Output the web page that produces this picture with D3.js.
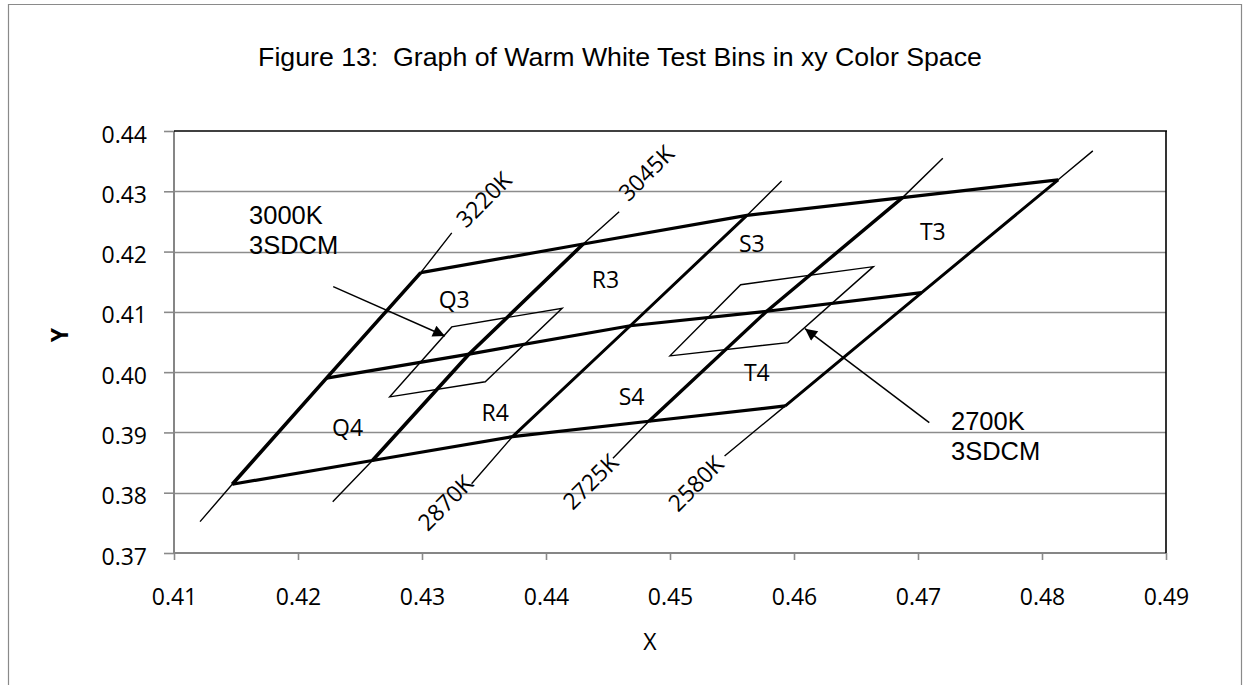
<!DOCTYPE html>
<html>
<head>
<meta charset="utf-8">
<script src="https://cdn.jsdelivr.net/npm/d3@7"></script>
<style>
  html, body { margin: 0; padding: 0; background: #fff; }
  svg { display: block; }
</style>
</head>
<body>
<svg id="chart" width="1243" height="685"></svg>
<script>
// ---------------- DATA ----------------
const titleText = "Figure 13:  Graph of Warm White Test Bins in xy Color Space";
const xTicks = [0.41, 0.42, 0.43, 0.44, 0.45, 0.46, 0.47, 0.48, 0.49];
const yTicks = [0.37, 0.38, 0.39, 0.40, 0.41, 0.42, 0.43, 0.44];

// CCT lines: name, thin lower end, thick points (bottom, middle, top), thin upper end
const cctNames = ["3220K", "3045K", "2870K", "2725K", "2580K"];
const cctLowEnd = [[0.4121, 0.3752], [0.4228, 0.3785], [0.4340, 0.3815], [0.4454, 0.3857], [0.4544, 0.3861]];
const cctBottom = [[0.4147, 0.3814], [0.4260, 0.38535], [0.4373, 0.3893], [0.4483, 0.39185], [0.4593, 0.3944]];
const cctMiddle = [[0.4223, 0.3990], [0.4338, 0.4030], [0.4468, 0.4077], [0.4578, 0.4101], [0.4703, 0.4132]];
const cctTop = [[0.4299, 0.4165], [0.4430, 0.42125], [0.4562, 0.4260], [0.46875, 0.42895], [0.4813, 0.4319]];
const cctHighEnd = [[0.4324, 0.4231], [0.4459, 0.4266], [0.4590, 0.4317], [0.4720, 0.4355], [0.4841, 0.4367]];
const cctLabelPos = [[0.4350, 0.4286], [0.4481, 0.4330], [0.4319, 0.3783], [0.4436, 0.3818], [0.4521, 0.3815]];

// 3-step MacAdam (3SDCM) quadrangles
const sdcm3000 = [[0.4274, 0.3959], [0.4351, 0.3984], [0.4413, 0.4106], [0.4324, 0.4075]];
const sdcm2700 = [[0.4500, 0.4027], [0.4595, 0.4049], [0.4664, 0.4175], [0.4557, 0.4145]];

// Bin labels
const binNames = ["Q3", "Q4", "R3", "R4", "S3", "S4", "T3", "T4"];
const binPos = [[0.4326, 0.4120], [0.4240, 0.3907], [0.4448, 0.4153], [0.4359, 0.3932],
                [0.4566, 0.4213], [0.4469, 0.3959], [0.4712, 0.4232], [0.4570, 0.3999]];

// Annotations (text anchor, arrow start, arrow tip)
const annoLines = [["3000K", "3SDCM"], ["2700K", "3SDCM"]];
const annoText = [[0.41605, 0.42457], [0.47266, 0.39041]];
const annoFrom = [[0.42284, 0.41418], [0.47091, 0.39162]];
const annoTo = [[0.43185, 0.40600], [0.46089, 0.40721]];

// ---------------- LAYOUT ----------------
const svg = d3.select("#chart");
const W = 1243, H = 685;
const plot = { left: 174, right: 1166, top: 131, bottom: 553 };
const x = d3.scaleLinear().domain([0.41, 0.49]).range([plot.left, plot.right]);
const y = d3.scaleLinear().domain([0.37, 0.44]).range([plot.bottom, plot.top]);
const calibri = "'Open Sans', 'Noto Sans', sans-serif";
const arial = "'Liberation Sans', Arial, sans-serif";

// Outer chart border
svg.append("path")
  .attr("d", `M8.5,${H + 5} L8.5,4.5 L1241.5,4.5 L1241.5,${H + 5}`)
  .attr("fill", "none").attr("stroke", "#8a8a8a").attr("stroke-width", 1.2);

// Title
svg.append("text").attr("x", 620).attr("y", 65.5)
  .attr("text-anchor", "middle")
  .style("white-space", "pre")
  .style("font-family", arial).style("font-size", "26.7px").attr("fill", "#000")
  .text(titleText);

// Gridlines
svg.append("g").selectAll("line").data(yTicks.filter(v => v > 0.371 && v < 0.439)).join("line")
  .attr("x1", plot.left).attr("x2", plot.right)
  .attr("y1", d => Math.round(y(d)) + 0.5).attr("y2", d => Math.round(y(d)) + 0.5)
  .attr("stroke", "#8c8c8c").attr("stroke-width", 1.4);

// Axes with D3
const yAxis = d3.axisLeft(y).tickValues(yTicks).tickFormat(d3.format(".2f")).tickSize(10).tickPadding(0);
const gy = svg.append("g").attr("transform", `translate(${plot.left},0)`).call(yAxis);
gy.select(".domain").remove();
gy.selectAll(".tick line").attr("stroke", "#8a8a8a").attr("stroke-width", 1.6);
gy.selectAll(".tick text").attr("x", -27).attr("dy", null).attr("y", 11)
  .style("font-family", calibri).style("font-size", "23px").attr("fill", "#000");

const xAxis = d3.axisBottom(x).tickValues(xTicks).tickFormat(d3.format(".2f")).tickSize(7).tickPadding(0);
const gx = svg.append("g").attr("transform", `translate(0,${plot.bottom})`).call(xAxis);
gx.select(".domain").remove();
gx.selectAll(".tick line").attr("stroke", "#8a8a8a").attr("stroke-width", 1.6);
gx.selectAll(".tick text").attr("dy", null).attr("y", 52)
  .style("font-family", calibri).style("font-size", "23px").attr("fill", "#000");

// Plot frame: left & bottom grey, top & right black
svg.append("line").attr("x1", plot.left).attr("x2", plot.left).attr("y1", plot.top).attr("y2", plot.bottom + 1)
  .attr("stroke", "#868686").attr("stroke-width", 2);
svg.append("line").attr("x1", plot.left).attr("x2", plot.right).attr("y1", plot.bottom).attr("y2", plot.bottom)
  .attr("stroke", "#868686").attr("stroke-width", 2);
svg.append("line").attr("x1", plot.left).attr("x2", plot.right + 1).attr("y1", plot.top).attr("y2", plot.top)
  .attr("stroke", "#000").attr("stroke-width", 1.6);
svg.append("line").attr("x1", plot.right).attr("x2", plot.right).attr("y1", plot.top).attr("y2", plot.bottom)
  .attr("stroke", "#000").attr("stroke-width", 1.6);

// Axis titles
svg.append("text").attr("transform", "translate(68,335) rotate(-90)")
  .attr("text-anchor", "middle")
  .style("font-family", calibri).style("font-size", "23px").style("font-weight", "bold")
  .text("Y");
svg.append("text").attr("x", 650).attr("y", 650).attr("text-anchor", "middle")
  .style("font-family", calibri).style("font-size", "23px")
  .text("X");

// ---------------- MARKS ----------------
const line = d3.line().x(d => x(d[0])).y(d => y(d[1]));
const marks = svg.append("g");

// thin CCT lines (full extent)
marks.selectAll("path.thin").data(cctNames.map((n, i) =>
    [cctLowEnd[i], cctBottom[i], cctMiddle[i], cctTop[i], cctHighEnd[i]]))
  .join("path").attr("class", "thin")
  .attr("d", line).attr("fill", "none").attr("stroke", "#000").attr("stroke-width", 1.4);

// thick CCT bin boundaries
const thickW = [3.6, 3.6, 3.0, 3.4, 3.0];
marks.selectAll("path.cct").data(cctNames.map((n, i) => [cctBottom[i], cctMiddle[i], cctTop[i]]))
  .join("path").attr("class", "cct")
  .attr("d", line).attr("fill", "none").attr("stroke", "#000")
  .attr("stroke-width", (d, i) => thickW[i]).attr("stroke-linejoin", "round");

// bottom, middle, top boundaries
[cctBottom, cctMiddle, cctTop].forEach(pts => {
  marks.append("path").attr("d", line(pts)).attr("fill", "none")
    .attr("stroke", "#000").attr("stroke-width", 3.2).attr("stroke-linejoin", "round");
});

// 3SDCM quadrangles
[sdcm3000, sdcm2700].forEach(q => {
  marks.append("path").attr("d", line(q) + "Z").attr("fill", "none")
    .attr("stroke", "#000").attr("stroke-width", 1.4);
});

// Arrow annotations
svg.append("defs").append("marker").attr("id", "arrow")
  .attr("viewBox", "0 0 10 10").attr("refX", 10).attr("refY", 5)
  .attr("markerWidth", 15).attr("markerHeight", 12).attr("markerUnits", "userSpaceOnUse")
  .attr("orient", "auto")
  .append("path").attr("d", "M0,0 L10,5 L0,10 Z").attr("fill", "#000");

annoFrom.forEach((f, i) => {
  svg.append("line")
    .attr("x1", x(f[0])).attr("y1", y(f[1]))
    .attr("x2", x(annoTo[i][0])).attr("y2", y(annoTo[i][1]))
    .attr("stroke", "#000").attr("stroke-width", 1.5).attr("marker-end", "url(#arrow)");
});

annoLines.forEach((lines, i) => {
  const t = svg.append("text").attr("x", x(annoText[i][0])).attr("y", y(annoText[i][1]))
    .style("font-family", arial).style("font-size", "25.5px").attr("fill", "#000");
  lines.forEach((s, k) => {
    t.append("tspan").attr("x", x(annoText[i][0])).attr("dy", k === 0 ? 0 : 30).text(s);
  });
});

// Bin labels
svg.append("g").selectAll("text").data(binNames).join("text")
  .attr("x", (d, i) => x(binPos[i][0])).attr("y", (d, i) => y(binPos[i][1]) + 8.2)
  .attr("text-anchor", "middle")
  .style("font-family", calibri).style("font-size", "23px").attr("fill", "#000")
  .text(d => d);

// CCT labels (rotated)
svg.append("g").selectAll("text").data(cctNames).join("text")
  .attr("transform", (d, i) => `translate(${x(cctLabelPos[i][0])},${y(cctLabelPos[i][1])}) rotate(-45)`)
  .attr("text-anchor", "middle").attr("y", 8)
  .style("font-family", calibri).style("font-size", "23px").attr("fill", "#000")
  .text(d => d);
</script>
</body>
</html>
